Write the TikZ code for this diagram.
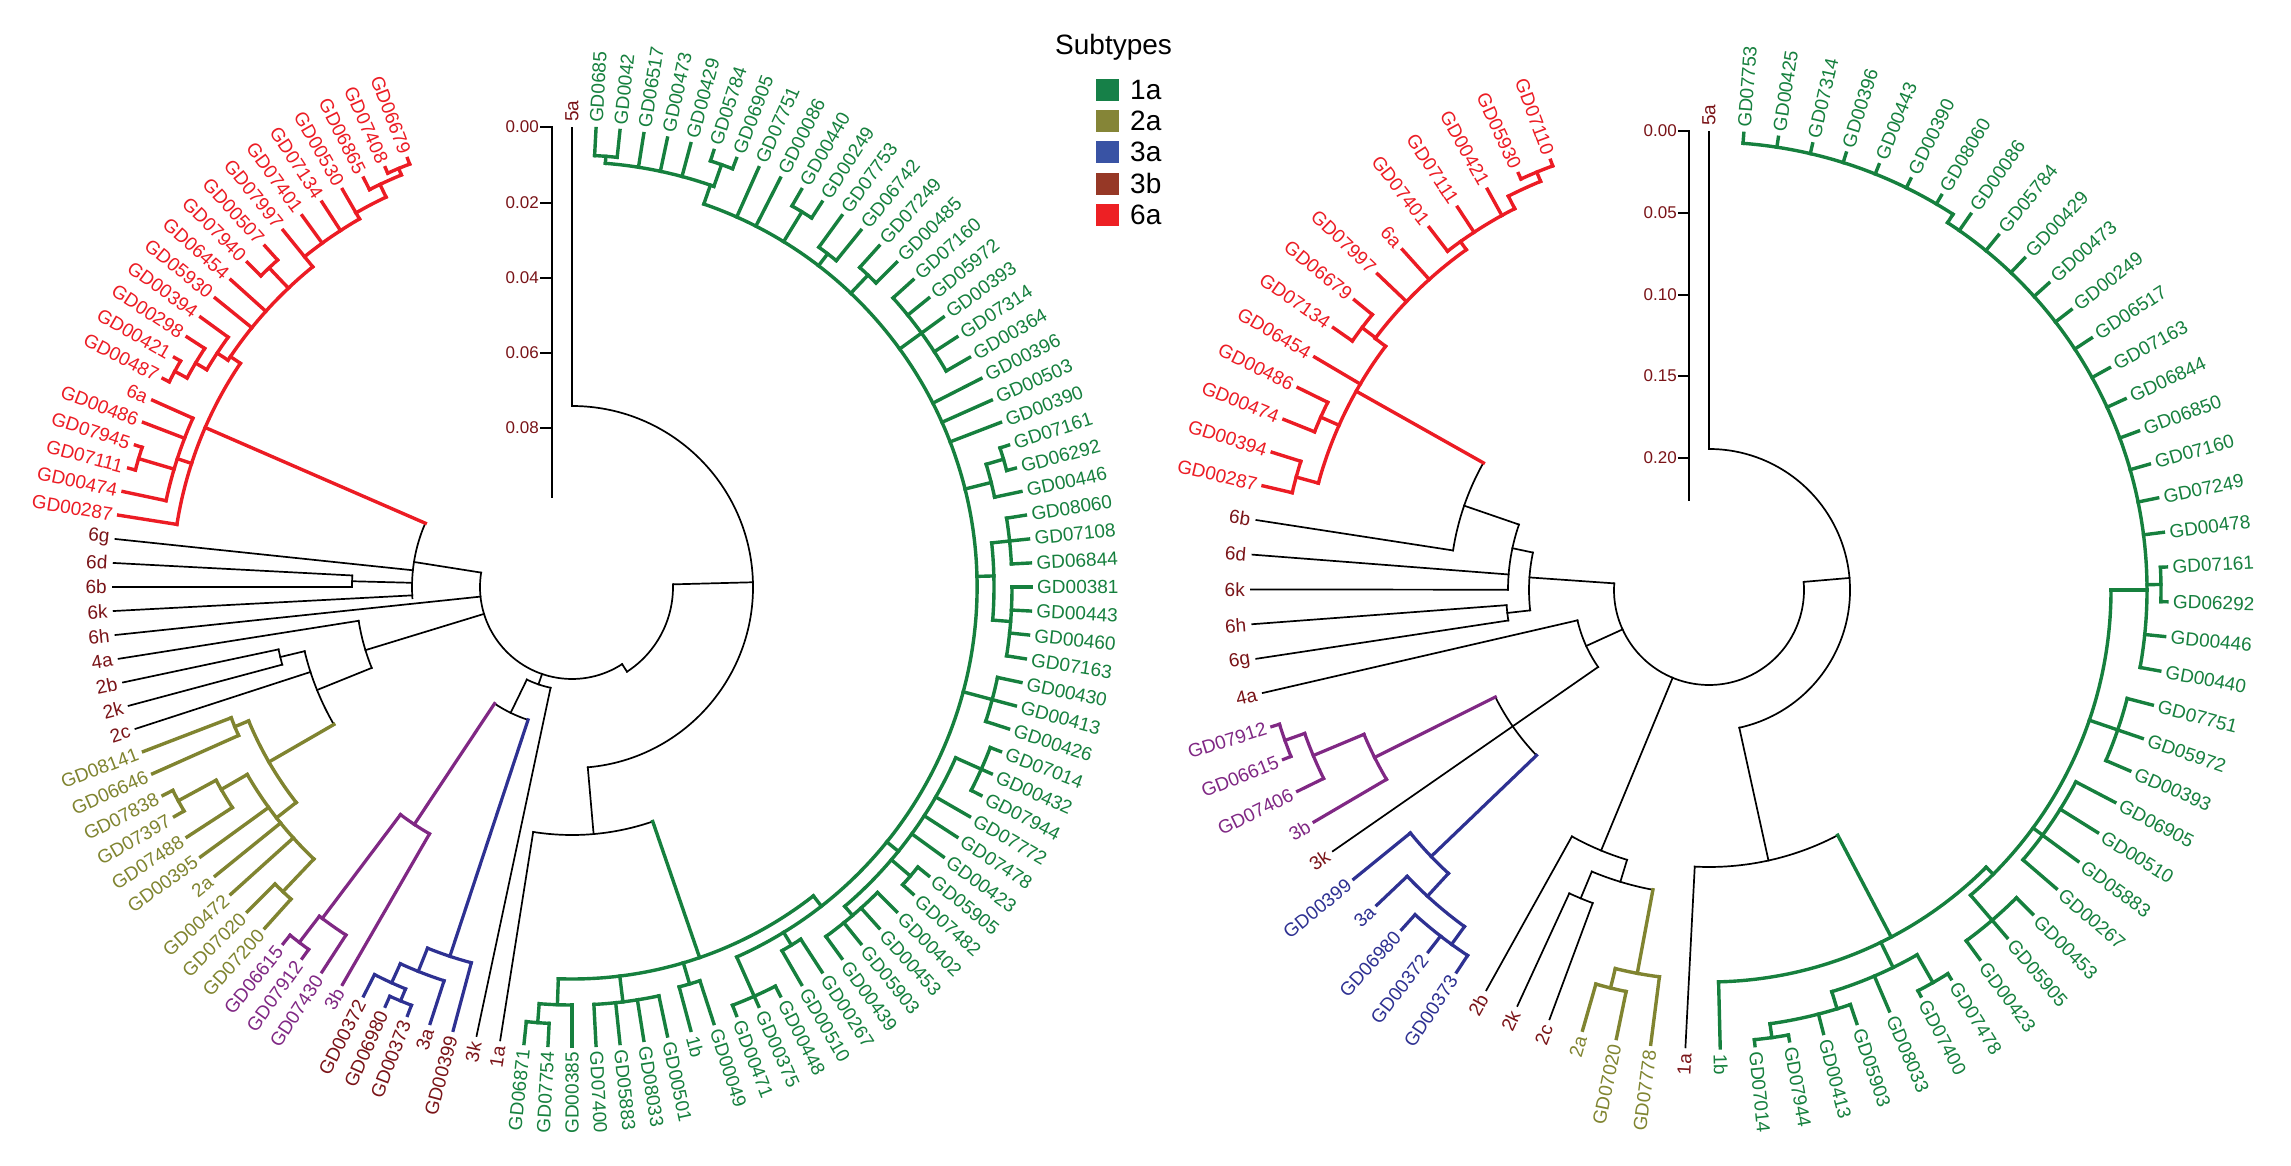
\documentclass[tikz,border=0pt]{standalone}
\usepackage{fontspec}
\setmainfont{Liberation Sans}
\definecolor{cg}{RGB}{22,128,62}
\definecolor{co}{RGB}{128,132,48}
\definecolor{cb}{RGB}{46,49,146}
\definecolor{cp}{RGB}{128,40,132}
\definecolor{cr}{RGB}{236,28,36}
\definecolor{cd}{RGB}{122,20,24}
\definecolor{lg1}{RGB}{22,128,72}
\definecolor{lg2}{RGB}{133,133,55}
\definecolor{lg3}{RGB}{57,83,164}
\definecolor{lg4}{RGB}{150,56,38}
\definecolor{lg5}{RGB}{237,32,36}
\tikzset{
 sblk/.style={draw=black,line width=1.7pt,line cap=rect},
 sgrn/.style={draw=cg,line width=3.4pt,line cap=rect},
 solv/.style={draw=co,line width=3.4pt,line cap=rect},
 spur/.style={draw=cp,line width=3.2pt,line cap=rect},
 sblu/.style={draw=cb,line width=3.2pt,line cap=rect},
 sred/.style={draw=cr,line width=3.4pt,line cap=rect},
 lab/.style={font=\fontsize{19}{19}\selectfont,inner sep=0pt},
 sclab/.style={font=\fontsize{17}{17}\selectfont,inner sep=0pt,text=cd,anchor=east},
 leglab/.style={font=\fontsize{28}{28}\selectfont,inner sep=0pt,anchor=west}
}
% leaf: idx, inner radius, text, line style, text colour
\newcommand\Lf[5]{%
 \pgfmathsetmacro\ang{90-\stp*#1}%
 \draw[#4] (\ang:#2) -- (\ang:\tipr);%
 \pgfmathtruncatemacro\rside{(cos(\ang)>0.001) || (sin(\ang)>0.999)}%
 \ifnum\rside=1
  \node[lab,text=#5,rotate=\ang,anchor=west] (\tn#1) at (\ang:\labr) {#3};%
 \else
  \pgfmathsetmacro\angb{\ang+180}%
  \node[lab,text=#5,rotate=\angb,anchor=east] (\tn#1) at (\ang:\labr) {#3};%
 \fi}
\newcommand\Ar[4]{\draw[#4] (#2:#1) arc[start angle=#2,end angle=#3,radius=#1pt];}
\newcommand\St[4]{\draw[#4] (#1:#2) -- (#1:#3);}
\begin{document}
\begin{tikzpicture}[x=1pt,y=1pt]
\useasboundingbox (0,0) rectangle (2291,1165);
\fill[white] (0,0) rectangle (2291,1165);
%================ LEFT TREE =================
\begin{scope}[shift={(572,578)}]
\def\stp{3}\def\tn{L}\def\tipr{459}\def\labr{465}
\Ar{92}{-189}{-57}{sblk}
\St{-57}{92}{101}{sblk}
\Ar{101}{-57}{1.5}{sblk}
\St{1.5}{101}{181}{sblk}
\Ar{181}{-85}{90}{sblk}
\Lf{0}{181}{5a}{sblk}{cd}
\St{-85}{181}{248}{sblk}
\Ar{248}{-99}{-71}{sblk}
\Lf{63}{248}{1a}{sblk}{cd}
% 6 group
\St{171}{92}{160}{sblk}
\Ar{160}{156.5}{184}{sblk}
\Lf{92}{160}{6g}{sblk}{cd}
\St{178.5}{160}{220}{sblk}
\Ar{220}{177}{180}{sblk}
\Lf{91}{220}{6d}{sblk}{cd}
\Lf{90}{220}{6b}{sblk}{cd}
\Lf{89}{160}{6k}{sblk}{cd}
\Lf{88}{92}{6h}{sblk}{cd}
% 4a / 2 group
\St{197}{92}{216}{sblk}
\Ar{216}{189}{202}{sblk}
\Lf{87}{216}{4a}{sblk}{cd}
\St{202}{216}{275}{sblk}
\Ar{275}{193.5}{210}{sblk}
\St{193.5}{275}{300}{sblk}
\Ar{300}{192}{195}{sblk}
\Lf{86}{300}{2b}{sblk}{cd}
\Lf{85}{300}{2k}{sblk}{cd}
\Lf{84}{275}{2c}{sblk}{cd}
% olive
\St{210}{275}{350}{solv}
\Ar{350}{202.5}{218}{solv}
\St{202.5}{350}{365}{solv}
\Ar{365}{201}{204}{solv}
\Lf{83}{365}{GD08141}{solv}{co}
\Lf{82}{365}{GD06646}{solv}{co}
\St{218}{350}{375}{solv}
\Ar{375}{210}{226.5}{solv}
\St{210}{375}{405}{solv}
\Ar{405}{208.5}{213}{solv}
\St{208.5}{405}{448}{solv}
\Ar{448}{207}{210}{solv}
\Lf{81}{448}{GD07838}{solv}{co}
\Lf{80}{448}{GD07397}{solv}{co}
\Lf{79}{405}{GD07488}{solv}{co}
\Lf{78}{375}{GD00395}{solv}{co}
\Lf{77}{375}{2a}{solv}{co}
\Lf{76}{375}{GD00472}{solv}{co}
\St{226.5}{375}{420}{solv}
\Ar{420}{225}{228}{solv}
\Lf{75}{420}{GD07020}{solv}{co}
\Lf{74}{420}{GD07200}{solv}{co}
% 3 group
\St{251}{92}{103}{sblk}
\Ar{103}{244}{258}{sblk}
\Lf{64}{103}{3k}{sblk}{cd}
\St{244}{103}{140}{sblk}
\Ar{140}{236.4}{251.7}{sblk}
\St{236.4}{140}{285}{spur}
\Ar{285}{233}{240}{spur}
\Lf{70}{285}{3b}{spur}{cp}
\St{233}{285}{415}{spur}
\Ar{415}{232.5}{237}{spur}
\Lf{71}{415}{GD07430}{spur}{cp}
\St{232.5}{415}{448}{spur}
\Ar{448}{231}{234}{spur}
\Lf{72}{448}{GD07912}{spur}{cp}
\Lf{73}{448}{GD06615}{spur}{cp}
\St{251.7}{140}{389}{sblu}
\Ar{389}{248.2}{255}{sblu}
\Lf{65}{389}{GD00399}{sblu}{cd}
\St{248.2}{389}{414}{sblu}
\Ar{414}{245.5}{252}{sblu}
\Lf{66}{414}{3a}{sblu}{cd}
\St{245.5}{414}{435}{sblu}
\Ar{435}{243}{247.5}{sblu}
\Lf{69}{435}{GD00372}{sblu}{cd}
\St{247.5}{435}{448}{sblu}
\Ar{448}{246}{249}{sblu}
\Lf{68}{448}{GD06980}{sblu}{cd}
\Lf{67}{448}{GD00373}{sblu}{cd}
% red
\St{156.5}{160}{400}{sred}
\Ar{400}{146}{171}{sred}
\Lf{93}{400}{GD00287}{sred}{cr}
\St{162}{400}{415}{sred}
\Ar{415}{156}{168}{sred}
\Lf{94}{415}{GD00474}{sred}{cr}
\St{163.5}{415}{452}{sred}
\Ar{452}{162}{165}{sred}
\Lf{95}{452}{GD07111}{sred}{cr}
\Lf{96}{452}{GD07945}{sred}{cr}
\Lf{97}{415}{GD00486}{sred}{cr}
\Lf{98}{415}{6a}{sred}{cr}
\St{146}{400}{412}{sred}
\Ar{412}{129}{146.6}{sred}
\St{146.6}{412}{425}{sred}
\Ar{425}{144}{149.25}{sred}
\Lf{102}{425}{GD00394}{sred}{cr}
\St{149.25}{425}{438}{sred}
\Ar{438}{147}{151.5}{sred}
\Lf{101}{438}{GD00298}{sred}{cr}
\St{151.5}{438}{452}{sred}
\Ar{452}{150}{153}{sred}
\Lf{100}{452}{GD00421}{sred}{cr}
\Lf{99}{452}{GD00487}{sred}{cr}
\Lf{103}{412}{GD05930}{sred}{cr}
\Lf{104}{412}{GD06454}{sred}{cr}
\St{133.5}{412}{440}{sred}
\Ar{440}{132}{135}{sred}
\Lf{105}{440}{GD07940}{sred}{cr}
\Lf{106}{440}{GD00507}{sred}{cr}
\St{129}{412}{425}{sred}
\Ar{425}{120}{129}{sred}
\Lf{107}{425}{GD07997}{sred}{cr}
\Lf{108}{425}{GD07401}{sred}{cr}
\Lf{109}{425}{GD07134}{sred}{cr}
\St{120}{425}{432}{sred}
\Ar{432}{115.5}{120}{sred}
\Lf{110}{432}{GD00530}{sred}{cr}
\St{115.5}{432}{446}{sred}
\Ar{446}{112.5}{117}{sred}
\Lf{111}{446}{GD06865}{sred}{cr}
\St{112.5}{446}{453}{sred}
\Ar{453}{111}{114}{sred}
\Lf{112}{453}{GD07408}{sred}{cr}
\Lf{113}{453}{GD06679}{sred}{cr}
% green
\St{-71}{248}{392}{sgrn}
\Ar{392}{-92}{-52}{sgrn}
\St{-92}{392}{418}{sgrn}
\Ar{418}{-94.5}{-90}{sgrn}
\St{-94.5}{418}{437}{sgrn}
\Ar{437}{-96}{-93}{sgrn}
\Lf{62}{437}{GD06871}{sgrn}{cg}
\Lf{61}{437}{GD07754}{sgrn}{cg}
\Lf{60}{418}{GD00385}{sgrn}{cg}
\St{-83}{392}{418}{sgrn}
\Ar{418}{-87}{-78}{sgrn}
\Lf{59}{418}{GD07400}{sgrn}{cg}
\Lf{58}{418}{GD05883}{sgrn}{cg}
\Lf{57}{418}{GD08033}{sgrn}{cg}
\Lf{56}{418}{GD00501}{sgrn}{cg}
\St{-73.5}{392}{414}{sgrn}
\Ar{414}{-75}{-72}{sgrn}
\Lf{55}{414}{1b}{sgrn}{cg}
\Lf{54}{414}{GD00049}{sgrn}{cg}
\St{-52}{392}{405}{sgrn}
\Ar{405}{-66}{71}{sgrn}
\St{-66}{405}{448}{sgrn}
\Ar{448}{-69}{-63}{sgrn}
\Lf{53}{448}{GD00471}{sgrn}{cg}
\Lf{52}{448}{GD00375}{sgrn}{cg}
\Lf{51}{448}{GD00448}{sgrn}{cg}
\St{-58.5}{405}{420}{sgrn}
\Ar{420}{-60}{-57}{sgrn}
\Lf{50}{420}{GD00510}{sgrn}{cg}
\Lf{49}{420}{GD00267}{sgrn}{cg}
\St{-39}{405}{420}{sgrn}
\Ar{420}{-49.5}{-24}{sgrn}
\St{-49.5}{420}{432}{sgrn}
\Ar{432}{-54}{-45}{sgrn}
\Lf{48}{432}{GD00439}{sgrn}{cg}
\Lf{47}{432}{GD05903}{sgrn}{cg}
\Lf{46}{432}{GD00453}{sgrn}{cg}
\Lf{45}{432}{GD00402}{sgrn}{cg}
\St{-40.5}{420}{445}{sgrn}
\Ar{445}{-42}{-39}{sgrn}
\Lf{44}{445}{GD07482}{sgrn}{cg}
\Lf{43}{445}{GD05905}{sgrn}{cg}
\Lf{42}{420}{GD00423}{sgrn}{cg}
\Lf{41}{420}{GD07478}{sgrn}{cg}
\Lf{40}{420}{GD07772}{sgrn}{cg}
\St{-24}{420}{448}{sgrn}
\Ar{448}{-27}{-21}{sgrn}
\Lf{39}{448}{GD07944}{sgrn}{cg}
\Lf{38}{448}{GD00432}{sgrn}{cg}
\Lf{37}{448}{GD07014}{sgrn}{cg}
\St{-15}{405}{435}{sgrn}
\Ar{435}{-18}{-12}{sgrn}
\Lf{36}{435}{GD00426}{sgrn}{cg}
\Lf{35}{435}{GD00413}{sgrn}{cg}
\Lf{34}{435}{GD00430}{sgrn}{cg}
\St{1.5}{405}{422}{sgrn}
\Ar{422}{-4.5}{6}{sgrn}
\St{-4.5}{422}{440}{sgrn}
\Ar{440}{-9}{0}{sgrn}
\Lf{33}{440}{GD07163}{sgrn}{cg}
\Lf{32}{440}{GD00460}{sgrn}{cg}
\Lf{31}{440}{GD00443}{sgrn}{cg}
\Lf{30}{440}{GD00381}{sgrn}{cg}
\St{6}{422}{440}{sgrn}
\Ar{440}{3}{9}{sgrn}
\Lf{29}{440}{GD06844}{sgrn}{cg}
\Lf{28}{440}{GD07108}{sgrn}{cg}
\Lf{27}{440}{GD08060}{sgrn}{cg}
\St{14}{405}{432}{sgrn}
\Ar{432}{12}{16.5}{sgrn}
\Lf{26}{432}{GD00446}{sgrn}{cg}
\St{16.5}{432}{450}{sgrn}
\Ar{450}{15}{18}{sgrn}
\Lf{25}{450}{GD06292}{sgrn}{cg}
\Lf{24}{450}{GD07161}{sgrn}{cg}
\Lf{23}{405}{GD00390}{sgrn}{cg}
\Lf{22}{405}{GD00503}{sgrn}{cg}
\Lf{21}{405}{GD00396}{sgrn}{cg}
\St{36}{405}{432}{sgrn}
\Ar{432}{30}{42}{sgrn}
\Lf{20}{432}{GD00364}{sgrn}{cg}
\Lf{19}{432}{GD07314}{sgrn}{cg}
\Lf{18}{432}{GD00393}{sgrn}{cg}
\Lf{17}{432}{GD05972}{sgrn}{cg}
\Lf{16}{432}{GD07160}{sgrn}{cg}
\St{46.5}{405}{430}{sgrn}
\Ar{430}{45}{48}{sgrn}
\Lf{15}{430}{GD00485}{sgrn}{cg}
\Lf{14}{430}{GD07249}{sgrn}{cg}
\St{52.5}{405}{420}{sgrn}
\Ar{420}{51}{54}{sgrn}
\Lf{13}{420}{GD06742}{sgrn}{cg}
\Lf{12}{420}{GD07753}{sgrn}{cg}
\St{58.5}{405}{440}{sgrn}
\Ar{440}{57}{60}{sgrn}
\Lf{11}{440}{GD00249}{sgrn}{cg}
\Lf{10}{440}{GD00440}{sgrn}{cg}
\Lf{9}{405}{GD00086}{sgrn}{cg}
\Lf{8}{405}{GD07751}{sgrn}{cg}
\St{71}{405}{425}{sgrn}
\Ar{425}{70.5}{85.5}{sgrn}
\St{70.5}{425}{448}{sgrn}
\Ar{448}{69}{72}{sgrn}
\Lf{7}{448}{GD06905}{sgrn}{cg}
\Lf{6}{448}{GD05784}{sgrn}{cg}
\Lf{5}{425}{GD00429}{sgrn}{cg}
\Lf{4}{425}{GD00473}{sgrn}{cg}
\Lf{3}{425}{GD06517}{sgrn}{cg}
\St{85.5}{425}{432}{sgrn}
\Ar{432}{84}{87}{sgrn}
\Lf{2}{432}{GD0042}{sgrn}{cg}
\Lf{1}{432}{GD0685}{sgrn}{cg}
\end{scope}
%================ RIGHT TREE =================
\begin{scope}[shift={(1709,575)}]
\def\stp{4.356}\def\tn{R}\def\tipr{458}\def\labr{464}
\Ar{95}{-184}{4.9}{sblk}
\St{4.9}{95}{141}{sblk}
\Ar{141}{-77.6}{90}{sblk}
\Lf{0}{141}{5a}{sblk}{cd}
\St{-77.6}{141}{277}{sblk}
\Ar{277}{-92.95}{-62.3}{sblk}
\Lf{42}{277}{1a}{sblk}{cd}
% 6 group
\St{176}{95}{180}{sblk}
\Ar{180}{168}{186.5}{sblk}
\St{186.5}{180}{203}{sblk}
\Ar{203}{184.28}{188.64}{sblk}
\Lf{60}{203}{6g}{sblk}{cd}
\Lf{61}{203}{6h}{sblk}{cd}
\St{168}{180}{201}{sblk}
\Ar{201}{161}{179.93}{sblk}
\Lf{62}{201}{6k}{sblk}{cd}
\Lf{63}{201}{6d}{sblk}{cd}
\St{161}{201}{259}{sblk}
\Ar{259}{150.6}{171.22}{sblk}
\Lf{64}{259}{6b}{sblk}{cd}
% red
\St{150.6}{259}{405}{sred}
\Ar{405}{143}{164.7}{sred}
\St{164.7}{405}{428}{sred}
\Ar{428}{162.5}{166.86}{sred}
\Lf{65}{428}{GD00287}{sred}{cr}
\Lf{66}{428}{GD00394}{sred}{cr}
\St{156}{405}{425}{sred}
\Ar{425}{153.79}{158.15}{sred}
\Lf{67}{425}{GD00474}{sred}{cr}
\Lf{68}{425}{GD00486}{sred}{cr}
\Lf{69}{405}{GD06454}{sred}{cr}
\St{143}{405}{418}{sred}
\Ar{418}{125.5}{143}{sred}
\St{142.9}{418}{435}{sred}
\Ar{435}{140.72}{145.08}{sred}
\Lf{70}{435}{GD07134}{sred}{cr}
\Lf{71}{435}{GD06679}{sred}{cr}
\Lf{72}{418}{GD07997}{sred}{cr}
\Lf{73}{418}{6a}{sred}{cr}
\St{125.5}{418}{428}{sred}
\Ar{428}{117}{127.66}{sred}
\Lf{74}{428}{GD07401}{sred}{cr}
\Lf{75}{428}{GD07111}{sred}{cr}
\Lf{76}{428}{GD00421}{sred}{cr}
\St{117}{428}{442}{sred}
\Ar{442}{112.4}{117}{sred}
\St{112.4}{442}{452}{sred}
\Ar{452}{110.23}{114.59}{sred}
\Lf{77}{452}{GD05930}{sred}{cr}
\Lf{78}{452}{GD07110}{sred}{cr}
% 4a / 3 group
\St{-155.5}{95}{135}{sblk}
\Ar{135}{-167}{-145.22}{sblk}
\Lf{59}{135}{4a}{sblk}{cd}
\Lf{54}{135}{3k}{sblk}{cd}
\Ar{239}{-153.4}{-136.2}{sblk}
\St{-153.4}{239}{374}{spur}
\Ar{374}{-157.3}{-149.58}{spur}
\Lf{55}{374}{3b}{spur}{cp}
\St{-157.3}{374}{429}{spur}
\Ar{429}{-160.47}{-153.94}{spur}
\Lf{56}{429}{GD07406}{spur}{cp}
\St{-160.47}{429}{450}{spur}
\Ar{450}{-162.65}{-158.29}{spur}
\Lf{57}{450}{GD06615}{spur}{cp}
\Lf{58}{450}{GD07912}{spur}{cp}
\St{-136.2}{239}{385}{sblu}
\Ar{385}{-140.87}{-132.6}{sblu}
\Lf{53}{385}{GD00399}{sblu}{cb}
\St{-132.6}{385}{416}{sblu}
\Ar{416}{-136.51}{-126}{sblu}
\Lf{52}{416}{3a}{sblu}{cb}
\St{-126}{416}{438}{sblu}
\Ar{438}{-132.16}{-123.44}{sblu}
\Lf{51}{438}{GD06980}{sblu}{cb}
\Lf{50}{438}{GD00372}{sblu}{cb}
\Lf{49}{438}{GD00373}{sblu}{cb}
% 2 group
\St{-112.5}{95}{282}{sblk}
\Ar{282}{-119.09}{-106.9}{sblk}
\Lf{48}{282}{2b}{sblk}{cd}
\St{-106.9}{282}{305}{sblk}
\Ar{305}{-112.6}{-100.6}{sblk}
\St{-112.6}{305}{334}{sblk}
\Ar{334}{-114.73}{-110.38}{sblk}
\Lf{47}{334}{2k}{sblk}{cd}
\Lf{46}{334}{2c}{sblk}{cd}
\St{-100.6}{305}{390}{solv}
\Ar{390}{-103.9}{-97.31}{solv}
\Lf{43}{390}{GD07778}{solv}{co}
\St{-103.9}{390}{410}{solv}
\Ar{410}{-106.02}{-101.66}{solv}
\Lf{45}{410}{2a}{solv}{co}
\Lf{44}{410}{GD07020}{solv}{co}
% green
\St{-62.3}{277}{392}{sgrn}
\Ar{392}{-88.6}{-45}{sgrn}
\Lf{41}{392}{1b}{sgrn}{cg}
\St{-64}{392}{420}{sgrn}
\Ar{420}{-73}{-60.3}{sgrn}
\St{-73}{420}{438}{sgrn}
\Ar{438}{-82}{-71.17}{sgrn}
\St{-82}{438}{452}{sgrn}
\Ar{452}{-84.24}{-79.88}{sgrn}
\Lf{40}{452}{GD07014}{sgrn}{cg}
\Lf{39}{452}{GD07944}{sgrn}{cg}
\Lf{38}{438}{GD00413}{sgrn}{cg}
\Lf{37}{438}{GD05903}{sgrn}{cg}
\Lf{36}{420}{GD08033}{sgrn}{cg}
\St{-60.3}{420}{452}{sgrn}
\Ar{452}{-62.46}{-58.1}{sgrn}
\Lf{35}{452}{GD07400}{sgrn}{cg}
\Lf{34}{452}{GD07478}{sgrn}{cg}
\St{-45}{392}{402}{sgrn}
\Ar{402}{-49.4}{0}{sgrn}
\St{-49.4}{402}{435}{sgrn}
\Ar{435}{-53.75}{-45.04}{sgrn}
\Lf{33}{435}{GD00423}{sgrn}{cg}
\Lf{32}{435}{GD05905}{sgrn}{cg}
\Lf{31}{435}{GD00453}{sgrn}{cg}
\St{-36.3}{402}{414}{sgrn}
\Ar{414}{-40.68}{-27.61}{sgrn}
\Lf{30}{414}{GD00267}{sgrn}{cg}
\Lf{29}{414}{GD05883}{sgrn}{cg}
\Lf{28}{414}{GD00510}{sgrn}{cg}
\Lf{27}{414}{GD06905}{sgrn}{cg}
\St{-18.9}{402}{432}{sgrn}
\Ar{432}{-23.26}{-14.54}{sgrn}
\Lf{26}{432}{GD00393}{sgrn}{cg}
\Lf{25}{432}{GD05972}{sgrn}{cg}
\Lf{24}{432}{GD07751}{sgrn}{cg}
\St{0}{402}{438}{sgrn}
\Ar{438}{-10.19}{57}{sgrn}
\Lf{23}{438}{GD00440}{sgrn}{cg}
\Lf{22}{438}{GD00446}{sgrn}{cg}
\St{0.7}{438}{452}{sgrn}
\Ar{452}{-1.48}{2.88}{sgrn}
\Lf{21}{452}{GD06292}{sgrn}{cg}
\Lf{20}{452}{GD07161}{sgrn}{cg}
\Lf{19}{438}{GD00478}{sgrn}{cg}
\Lf{18}{438}{GD07249}{sgrn}{cg}
\Lf{17}{438}{GD07160}{sgrn}{cg}
\Lf{16}{438}{GD06850}{sgrn}{cg}
\Lf{15}{438}{GD06844}{sgrn}{cg}
\Lf{14}{438}{GD07163}{sgrn}{cg}
\Lf{13}{438}{GD06517}{sgrn}{cg}
\Lf{12}{438}{GD00249}{sgrn}{cg}
\Lf{11}{438}{GD00473}{sgrn}{cg}
\Lf{10}{438}{GD00429}{sgrn}{cg}
\Lf{9}{438}{GD05784}{sgrn}{cg}
\Lf{8}{438}{GD00086}{sgrn}{cg}
\St{57}{438}{448}{sgrn}
\Ar{448}{57}{85.64}{sgrn}
\Lf{7}{448}{GD08060}{sgrn}{cg}
\Lf{6}{448}{GD00390}{sgrn}{cg}
\Lf{5}{448}{GD00443}{sgrn}{cg}
\Lf{4}{448}{GD00396}{sgrn}{cg}
\Lf{3}{448}{GD07314}{sgrn}{cg}
\Lf{2}{448}{GD00425}{sgrn}{cg}
\Lf{1}{448}{GD07753}{sgrn}{cg}
\end{scope}
%================ SCALE BARS =================
\draw[sblk] (552,1038) -- (552,668);
\foreach \y/\t [count=\k] in {1038/0.00,962/0.02,887/0.04,812/0.06,737/0.08}{
 \draw[sblk] (541,\y) -- (552,\y);
 \node[sclab] (sl\k) at (539,\y) {\t};}
\draw[sblk] (1689,1034) -- (1689,665);
\foreach \y/\t [count=\k] in {1034/0.00,952/0.05,870/0.10,789/0.15,707/0.20}{
 \draw[sblk] (1679,\y) -- (1689,\y);
 \node[sclab] (sr\k) at (1677,\y) {\t};}
%================ LEGEND =================
\node[leglab] (legt) at (1055,1118) {Subtypes};
\foreach \c/\t/\yc [count=\k] in {lg1/1a/1075,lg2/2a/1044,lg3/3a/1013,lg4/3b/981,lg5/6a/950}{
 \fill[\c] (1096,\yc-11) rectangle (1119,\yc+11);
 \node[leglab] (leg\k) at (1130,\yc) {\t};}
\end{tikzpicture}
\end{document}
